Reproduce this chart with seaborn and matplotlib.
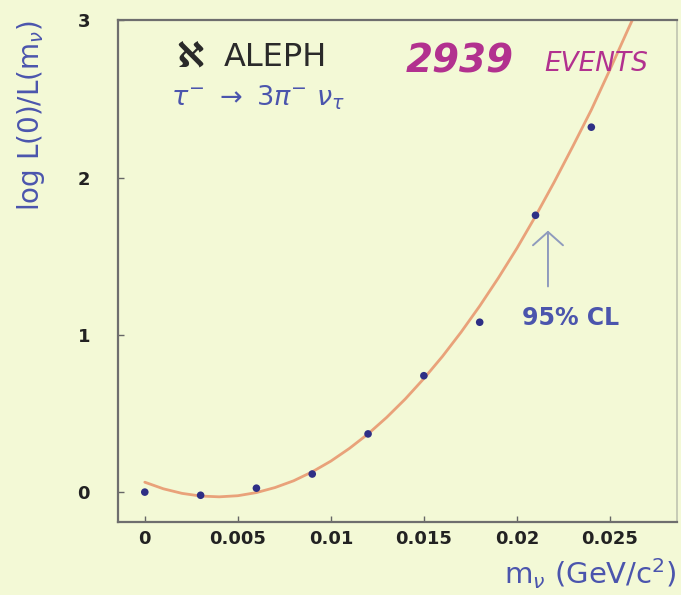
import matplotlib
matplotlib.use("Agg")
import matplotlib.pyplot as plt
import seaborn as sns
import pandas as pd

# Likelihood scan: tau -> 3 pi nu, ALEPH
mass = [0.0, 0.003, 0.006, 0.009, 0.012, 0.015, 0.018, 0.021, 0.024]
log_ratio = [0.0, -0.02, 0.025, 0.115, 0.37, 0.74, 1.08, 1.76, 2.32]

# Fitted likelihood curve
curve_mass = [0.0, 0.001, 0.002, 0.003, 0.004, 0.005, 0.006, 0.007, 0.008,
              0.009, 0.010, 0.011, 0.012, 0.013, 0.014, 0.015, 0.016, 0.017,
              0.018, 0.019, 0.020, 0.021, 0.022, 0.023, 0.024, 0.025, 0.026,
              0.0262]
curve_log_ratio = [0.063, 0.021, -0.008, -0.025, -0.030, -0.023, -0.003, 0.029,
                   0.072, 0.129, 0.197, 0.278, 0.370, 0.475, 0.592, 0.722,
                   0.863, 1.017, 1.183, 1.361, 1.550, 1.754, 1.970, 2.197,
                   2.430, 2.686, 2.949, 3.0]

x_ticks = [0, 0.005, 0.01, 0.015, 0.02, 0.025]
x_tick_labels = ["0", "0.005", "0.01", "0.015", "0.02", "0.025"]
y_ticks = [0, 1, 2, 3]
limit_mass = 0.02167

points = pd.DataFrame({"m": mass, "logL": log_ratio})
curve = pd.DataFrame({"m": curve_mass, "logL": curve_log_ratio})

sns.set_theme(style="ticks")
bg = "#f3f9d6"
fig = plt.figure(figsize=(6.81, 5.95), dpi=100, facecolor=bg)
ax = fig.add_axes([0.173, 0.1227, 0.821, 0.8433], facecolor=bg)

sns.lineplot(data=curve, x="m", y="logL", ax=ax, color="#e9a27a", lw=2.0,
             zorder=2, sort=False)
sns.scatterplot(data=points, x="m", y="logL", ax=ax, color="#2e2f86", s=30,
                edgecolor="none", zorder=3)
ax.set_xlim(-0.00145, 0.0286)
ax.set_ylim(-0.19, 3.0)

ax.set_xticks(x_ticks)
ax.set_xticklabels(x_tick_labels)
ax.set_yticks(y_ticks)
ax.tick_params(axis="both", direction="in", length=4, width=1, color="#666666",
               labelsize=13, labelcolor="#222222")
ax.tick_params(axis="y", pad=20)
ax.tick_params(axis="x", pad=6)
for lab in ax.get_xticklabels() + ax.get_yticklabels():
    lab.set_fontweight("bold")

for side in ["left", "bottom", "top"]:
    ax.spines[side].set_color("#6e6e6e")
    ax.spines[side].set_linewidth(1.6)
ax.spines["right"].set_color("#bfc4b0")
ax.spines["right"].set_linewidth(1.2)

blue = "#4b55ad"
ax.set_xlabel(r"m$_\nu$ (GeV/c$^2$)", color=blue, fontsize=21, loc="right", labelpad=6)
ax.set_ylabel(r"log L(0)/L(m$_\nu$)", color=blue, fontsize=20, loc="top", labelpad=22)

# Experiment label and decay channel
ax.text(0.105, 0.925, "ℵ", transform=ax.transAxes, fontsize=25, fontweight="bold",
        color="#2a2a2a", va="center", ha="left")
ax.text(0.19, 0.925, "ALEPH", transform=ax.transAxes, fontsize=23,
        color="#2a2a2a", va="center", ha="left")
ax.text(0.095, 0.845, r"$\tau^{-}\ \rightarrow\ 3\pi^{-}\ \nu_{\tau}$",
        transform=ax.transAxes, fontsize=19.5, color=blue, va="center", ha="left")

# Event count annotation
magenta = "#b2318f"
ax.text(0.515, 0.918, "2939", transform=ax.transAxes, fontsize=28, fontweight="bold",
        fontstyle="italic", color=magenta, va="center", ha="left")
ax.text(0.762, 0.912, "EVENTS", transform=ax.transAxes, fontsize=19,
        fontstyle="italic", color=magenta, va="center", ha="left")

# 95% CL marker
ax.annotate("", xy=(limit_mass, 1.68), xytext=(limit_mass, 1.29),
            arrowprops=dict(arrowstyle="->,head_length=0.8,head_width=0.9",
                            color="#8f9bbd", lw=1.4))
ax.text(0.02027, 1.11, "95% CL", fontsize=17, fontweight="bold", color=blue,
        va="center", ha="left")

fig.savefig("out.png", dpi=100, facecolor=bg)
